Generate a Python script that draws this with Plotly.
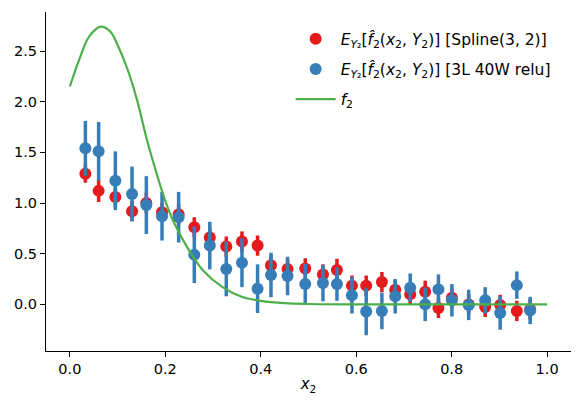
import plotly.graph_objects as go

# bin positions (shared by both estimators)
x_bins = [0.0325, 0.0603, 0.0953, 0.1303, 0.1602, 0.1931, 0.2279, 0.2607, 0.2932, 0.3277,
          0.3606, 0.3933, 0.4214, 0.4561, 0.4932, 0.5303, 0.5596, 0.5910, 0.6209, 0.6538,
          0.6817, 0.7131, 0.7445, 0.7723, 0.8004, 0.8356, 0.8702, 0.9016, 0.9365, 0.9644]

spline_mean = [1.29, 1.12, 1.06, 0.92, 1.00, 0.91, 0.89, 0.76, 0.66, 0.57,
               0.62, 0.58, 0.385, 0.35, 0.355, 0.295, 0.34, 0.185, 0.185, 0.22,
               0.145, 0.10, 0.125, -0.035, 0.065, 0.0, -0.025, -0.005, -0.065, -0.05]
spline_err = [0.09, 0.11, 0.10, 0.10, 0.10, 0.09, 0.10, 0.10, 0.10, 0.10,
              0.10, 0.10, 0.10, 0.10, 0.10, 0.10, 0.11, 0.10, 0.10, 0.10,
              0.10, 0.10, 0.11, 0.10, 0.10, 0.10, 0.10, 0.10, 0.10, 0.10]

mlp_mean = [1.54, 1.51, 1.22, 1.09, 0.98, 0.87, 0.86, 0.49, 0.58, 0.35,
            0.41, 0.155, 0.29, 0.28, 0.20, 0.21, 0.20, 0.09, -0.07, -0.065,
            0.08, 0.165, 0.0, 0.148, 0.04, -0.005, 0.04, -0.085, 0.19, -0.06]
mlp_err = [0.27, 0.29, 0.29, 0.27, 0.285, 0.24, 0.25, 0.28, 0.235, 0.27,
           0.24, 0.24, 0.22, 0.19, 0.20, 0.18, 0.165, 0.18, 0.235, 0.18,
           0.17, 0.14, 0.165, 0.148, 0.16, 0.15, 0.13, 0.165, 0.135, 0.135]

# true function f2
f2_x = [0.0, 0.02, 0.04, 0.065, 0.085, 0.10, 0.12, 0.14, 0.16, 0.18, 0.20, 0.22,
        0.25, 0.28, 0.32, 0.36, 0.40, 0.45, 0.50, 0.60, 0.70, 0.80, 0.90, 1.0]
f2_y = [2.15, 2.42, 2.64, 2.74, 2.69, 2.56, 2.33, 2.03, 1.65, 1.32, 1.02, 0.79,
        0.53, 0.33, 0.17, 0.075, 0.035, 0.012, 0.004, 0.0, 0.0, 0.0, 0.0, 0.0]

RED = "#e41a1c"
BLUE = "#377eb8"
GREEN = "#4daf4a"
FONT = "DejaVu Sans"

legend_lhs = "<i>E</i><sub><i>Y</i>₂</sub>[<i>f̂</i><sub>2</sub>(<i>x</i><sub>2</sub>, <i>Y</i><sub>2</sub>)]"

fig = go.Figure()

fig.add_trace(go.Scatter(
    x=x_bins, y=spline_mean, mode="markers",
    name=legend_lhs + " [Spline(3, 2)]", legendgroup="spline",
    marker=dict(color=RED, size=12),
    error_y=dict(type="data", array=spline_err, thickness=3.5, width=0, color=RED),
))
fig.add_trace(go.Scatter(
    x=x_bins, y=mlp_mean, mode="markers",
    name=legend_lhs + " [3L 40W relu]", legendgroup="mlp",
    marker=dict(color=BLUE, size=12),
    error_y=dict(type="data", array=mlp_err, thickness=3.5, width=0, color=BLUE),
))
fig.add_trace(go.Scatter(
    x=f2_x, y=f2_y, mode="lines",
    name="<i>f</i><sub>2</sub>", legendgroup="f2",
    line=dict(color=GREEN, width=2.2, shape="spline"),
))

axis_common = dict(
    showline=True, linecolor="black", linewidth=1,
    ticks="outside", ticklen=5, tickwidth=1, tickcolor="black",
    showgrid=False, zeroline=False, automargin=False,
    tickfont=dict(family=FONT, size=14.5, color="black"),
)

fig.update_layout(
    width=582, height=410,
    margin=dict(l=46, r=11, t=12, b=59),
    plot_bgcolor="white", paper_bgcolor="white",
    font=dict(family=FONT, size=14.5, color="black"),
    xaxis=dict(range=[-0.05, 1.05], tickvals=[0, 0.2, 0.4, 0.6, 0.8, 1.0],
               ticktext=["0.0", "0.2", "0.4", "0.6", "0.8", "1.0"],
               title=dict(text="<i>x</i><sub>2</sub>", standoff=2,
                          font=dict(family=FONT, size=15)), **axis_common),
    yaxis=dict(range=[-0.46, 2.885], tickvals=[0, 0.5, 1.0, 1.5, 2.0, 2.5],
               ticktext=["0.0", "0.5", "1.0", "1.5", "2.0", "2.5"], **axis_common),
    legend=dict(x=0.466, y=0.97, xanchor="left", yanchor="top", tracegroupgap=7,
                itemwidth=40,
                bgcolor="rgba(255,255,255,0)", font=dict(family=FONT, size=15.5)),
    showlegend=True,
)

# drop the browser's default page margin so the figure sits at (0, 0)
fig.write_html("out.html", config={"displayModeBar": False},
               post_script="document.body.style.margin='0';")
